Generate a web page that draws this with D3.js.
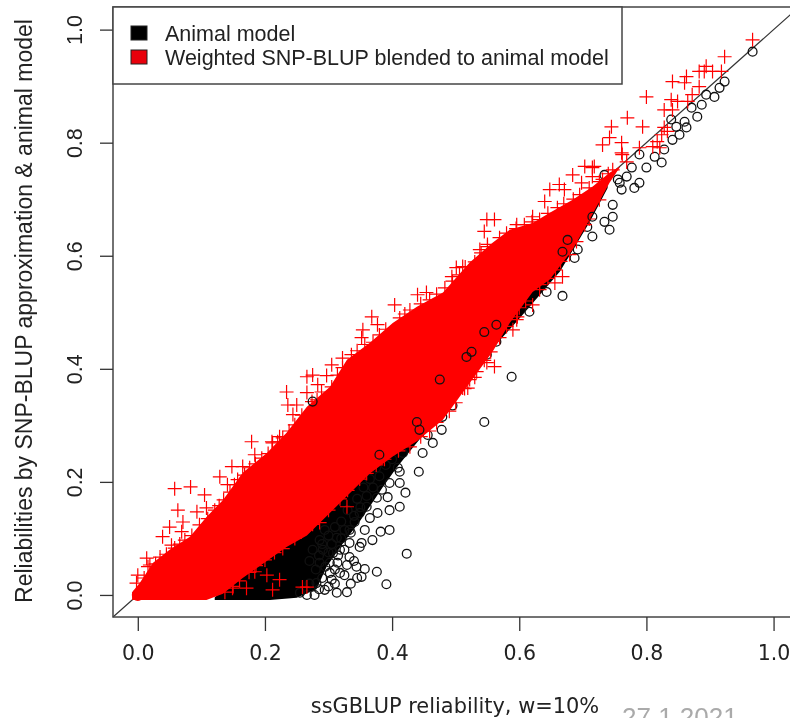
<!DOCTYPE html>
<html lang="en">
<head>
  <meta charset="UTF-8">
  <script src="https://d3js.org/d3.v7.min.js"></script>
  <title>SNP-BLUP reliabilities</title>
  <style>
    body { margin: 0; background: white; overflow: hidden; }
    svg { display: block; filter: blur(0.55px); }
    .x-text { font-family: "DejaVu Sans", sans-serif; fill: #222; }
    .y-text { font-family: "Liberation Sans", sans-serif; fill: #222; }
  </style>
</head>
<body>
<script>
  // Tick labels and text
  const xTicks = [0, 0.2, 0.4, 0.6, 0.8, 1.0];
  const yTicks = [0, 0.2, 0.4, 0.6, 0.8, 1.0];
  const legendLabels = ["Animal model", "Weighted SNP-BLUP blended to animal model"];

  const redBandX = [-0.009, 0.003, 0.024, 0.050, 0.082, 0.108, 0.134, 0.165, 0.203, 0.234, 0.266, 0.302, 0.329, 0.365, 0.401, 0.439, 0.480, 0.522, 0.558, 0.585, 0.621, 0.648, 0.684, 0.715, 0.742, 0.758];
  const redBandHigh = [0.005, 0.021, 0.057, 0.080, 0.103, 0.138, 0.168, 0.216, 0.251, 0.287, 0.333, 0.368, 0.416, 0.446, 0.481, 0.510, 0.535, 0.588, 0.623, 0.646, 0.658, 0.676, 0.699, 0.722, 0.747, 0.758];
  const redBandLow = [-0.009, -0.009, -0.009, -0.009, -0.009, -0.009, 0.002, 0.030, 0.060, 0.085, 0.105, 0.145, 0.175, 0.215, 0.245, 0.272, 0.310, 0.375, 0.430, 0.481, 0.536, 0.558, 0.611, 0.673, 0.729, 0.756];

  // Solid black mass showing below the red one
  const blackBandX = [0.121, 0.176, 0.208, 0.250, 0.281, 0.297, 0.322, 0.349, 0.385, 0.407, 0.443, 0.483, 0.522, 0.553, 0.601, 0.664, 0.711, 0.739];
  const blackBandHigh = [-0.004, 0.044, 0.080, 0.115, 0.147, 0.168, 0.195, 0.230, 0.274, 0.292, 0.319, 0.354, 0.407, 0.451, 0.522, 0.593, 0.673, 0.729];
  const blackBandLow = [-0.009, -0.009, -0.009, -0.005, 0.010, 0.050, 0.090, 0.130, 0.190, 0.225, 0.275, 0.327, 0.384, 0.430, 0.490, 0.572, 0.660, 0.720];

  // Animal model points that can be told apart
  const animalPoints = [
    [.967,.961],[.923,.908],[.915,.897],[.907,.881],[.894,.885],[.887,.867],[.880,.846],[.871,.862],[.863,.827],[.860,.837],
    [.847,.828],[.852,.814],[.839,.841],[.841,.805],[.828,.788],[.824,.765],[.813,.775],[.789,.779],[.800,.756],[.777,.756],
    [.789,.729],[.769,.740],[.755,.735],[.734,.743],[.761,.717],[.781,.720],[.747,.690],[.747,.669],[.742,.646],[.734,.660],
    [.715,.634],[.707,.651],[.692,.611],[.687,.596],[.668,.529],[.643,.536],[.616,.501],[.590,.504],[.588,.386],[.545,.306],
    [.549,.425],[.564,.448],[.495,.335],[.479,.315],[.478,.292],[.464,.269],[.448,.251],[.456,.283],[.442,.218],[.417,.251],
    [.409,.225],[.572,.474],[.412,.218],[.412,.198],[.421,.181],[.412,.156],[.393,.173],[.376,.172],[.396,.115],[.382,.112],
    [.357,.115],[.369,.097],[.352,.092],[.349,.085],[.423,.073],[.376,.041],[.357,.046],[.352,.032],[.391,.019],[.329,.005],
    [.333,.067],[.325,.035],[.313,.004],[.278,.000],[.266,.000],[.377,.145],[.365,.136],[.341,.129],[.333,.115],[.302,.057],
    [.314,.057],[.318,.039],[.305,.027],[.294,.009],[.344,.050],[.329,.053],[.307,.074],[.294,.115],[.313,.101],[.286,.097],
    [.333,.092],[.349,.145],[.360,.156],[.396,.150],[.384,.186],[.396,.198],[.275,.080],[.291,.080],[.286,.057],[.302,.039],
    [.281,.021],[.318,.080],[.255,.004],
    // thick part of the black cloud
    [.27,.02],[.285,.01],[.30,.015],[.29,.03],[.31,.02],[.28,.045],[.295,.05],[.31,.045],[.27,.06],[.285,.07],
    [.30,.075],[.315,.07],[.29,.09],[.305,.09],[.32,.1],[.30,.105],[.325,.115],[.31,.12],[.335,.11],[.32,.13],
    [.34,.14],[.33,.15],[.35,.155],[.345,.17],[.36,.175],[.355,.19],[.37,.19],[.365,.205],[.38,.21],[.375,.225],
    [.39,.23],[.385,.245],[.40,.24],[.335,.02],[.345,.03],[.34,.06],[.325,.08]
  ];

  // Animal model points that show through the red cloud
  const animalShowing = [
    [.517,.421],[.525,.430],[.475,.381],[.439,.306],[.443,.292],[.380,.248],[.564,.478],[.545,.465],[.758,.729],[.715,.669],
    [.676,.628],[.668,.607],[.275,.342]
  ];

  // Blended model points that can be told apart
  const blendedPoints = [
    [.967,.982],[.923,.952],[.894,.935],[.891,.926],[.904,.926],[.918,.926],[.883,.926],[.863,.917],[.860,.906],[.841,.908],
    [.800,.881],[.883,.899],[.872,.885],[.839,.876],[.849,.873],[.865,.873],[.828,.858],[.841,.858],[.770,.844],[.794,.828],
    [.745,.828],[.742,.809],[.731,.796],[.761,.800],[.761,.782],[.789,.791],[.769,.766],[.828,.827],[.824,.814],[.817,.802],
    [.810,.793],[.833,.820],[.821,.791],[.718,.758],[.715,.740],[.731,.735],[.747,.752],[.549,.664],[.561,.664],[.545,.643],
    [.715,.756],[.703,.758],[.684,.743],[.663,.726],[.648,.717],[.640,.696],[.698,.729],[.671,.717],[.621,.669],[.762,.779],
    [.596,.655],[.550,.616],[.538,.611],[.511,.581],[.501,.579],[.494,.563],[.668,.563],[.656,.552],[.632,.540],[.621,.513],
    [.597,.492],[.561,.404],[.590,.469],[.596,.487],[.549,.411],[.511,.366],[.522,.381],[.533,.395],[.519,.366],[.404,.513],
    [.440,.531],[.454,.535],[.368,.492],[.354,.469],[.352,.455],[.377,.478],[.305,.407],[.322,.419],[.275,.389],[.266,.386],
    [.297,.388],[.283,.372],[.234,.359],[.236,.336],[.250,.336],[.266,.358],[.244,.319],[.179,.271],[.211,.271],[.184,.248],
    [.223,.280],[.212,.269],[.148,.227],[.165,.227],[.129,.209],[.141,.195],[.083,.191],[.058,.188],[.105,.177],[.108,.154],
    [.063,.150],[.093,.147],[.071,.129],[.050,.120],[.039,.103],[.069,.112],[.053,.088],[.014,.065],[.016,.050],[.000,.035],
    [-.002,.021],
    // over the black part
    [.223,.027],[.212,.009],[.266,.014],[.329,.156],[.203,.035],[.184,.041],[.171,.012],[.149,.012],[.259,.014],
    // along the upper edge
    [.019,.053],[.035,.067],[.058,.083],[.074,.097],[.097,.124],[.121,.150],[.145,.182],[.157,.204],[.176,.225],[.195,.242],
    [.220,.271],[.247,.301],[.274,.342],[.289,.359],[.314,.389],[.336,.425],[.357,.443],[.380,.460],[.412,.490],[.428,.504],
    [.459,.522],[.483,.543],[.506,.566],[.530,.589],[.569,.632],[.608,.655],[.632,.664],[.660,.685],[.695,.708],[.726,.731],
    [.01,.03],[.028,.055],[.045,.072],[.066,.09],[.085,.105],[.11,.135],[.128,.158],[.135,.168],[.152,.195],[.168,.212],
    [.185,.232],[.205,.25],[.228,.278],[.238,.29],[.258,.318],[.282,.345],[.305,.368],[.322,.402],[.345,.432],[.37,.447],
    [.39,.47],[.42,.497],[.445,.515],[.47,.532],[.495,.555],[.515,.58],[.54,.605],[.55,.62],[.58,.64],[.595,.648],
    [.62,.66],[.645,.675],[.67,.692],[.685,.7],[.71,.72],[.74,.745],
    // along the lower edge
    [.137,.005],[.160,.025],[.186,.052],[.215,.075],[.247,.100],[.286,.128],[.318,.170],[.349,.205],[.388,.240],[.428,.262],
    [.459,.290],[.490,.325],[.514,.365],[.545,.415],[.569,.455],[.600,.508],[.632,.549],[.657,.575],[.679,.602],[.703,.655],
    [.726,.699],
    [.15,.015],[.175,.04],[.2,.062],[.228,.082],[.26,.115],[.275,.125],[.3,.15],[.33,.185],[.36,.215],[.375,.23],
    [.41,.255],[.445,.28],[.47,.305],[.5,.34],[.53,.385],[.555,.43],[.58,.475],[.61,.52],[.645,.56],[.665,.59],
    [.69,.625],[.71,.665]
  ];

  const width = 790;
  const height = 718;

  const x = d3.scaleLinear().domain([-0.039, 1.04]).range([113, 799]);
  const y = d3.scaleLinear().domain([-0.039, 1.04]).range([617, 7]);

  const svg = d3.select("body").append("svg")
    .attr("width", width)
    .attr("height", height);

  // Diagonal reference line
  svg.append("line")
    .attr("x1", x(-0.039)).attr("y1", y(-0.039))
    .attr("x2", x(1.04)).attr("y2", y(1.04))
    .attr("stroke", "#333")
    .attr("stroke-width", 1.2);

  // Band shape shared by both solid masses
  const band = d3.area()
    .x(d => x(d[0]))
    .y0(d => y(d[1]))
    .y1(d => y(d[2]));

  svg.append("path")
    .attr("d", band(blackBandX.map((v, i) => [v, blackBandLow[i], blackBandHigh[i]])))
    .attr("fill", "black");

  function drawRings(points) {
    svg.append("g").selectAll("circle")
      .data(points)
      .enter().append("circle")
      .attr("cx", d => x(d[0]))
      .attr("cy", d => y(d[1]))
      .attr("r", 4.4)
      .attr("fill", "none")
      .attr("stroke", "#111")
      .attr("stroke-width", 1.3);
  }

  drawRings(animalPoints);

  svg.append("path")
    .attr("d", band(redBandX.map((v, i) => [v, redBandLow[i], redBandHigh[i]])))
    .attr("fill", "#f00");

  // Corner of the cloud at the origin
  svg.append("circle")
    .attr("cx", x(0))
    .attr("cy", y(0))
    .attr("r", 6)
    .attr("fill", "#f00");

  svg.append("g").selectAll("path")
    .data(blendedPoints)
    .enter().append("path")
    .attr("transform", d => `translate(${x(d[0])},${y(d[1])})`)
    .attr("d", "M-7,0H7M0,-7V7")
    .attr("fill", "none")
    .attr("stroke", "#f00")
    .attr("stroke-width", 1.2);

  drawRings(animalShowing);

  // Frame, runs past the right edge of the page
  svg.append("rect")
    .attr("x", 113).attr("y", 7)
    .attr("width", 686).attr("height", 610)
    .attr("fill", "none")
    .attr("stroke", "#444")
    .attr("stroke-width", 1.5);

  // Axes
  const xAxis = svg.append("g")
    .attr("transform", "translate(0,617)")
    .call(d3.axisBottom(x).tickValues(xTicks).tickFormat(d3.format(".1f")).tickSize(14).tickPadding(14));
  xAxis.select(".domain").remove();
  xAxis.selectAll("line").attr("stroke", "#333").attr("stroke-width", 1.3);
  xAxis.selectAll("text").attr("class", "x-text").style("font-size", "20.5px");

  const yAxis = svg.append("g")
    .attr("transform", "translate(113,0)")
    .call(d3.axisLeft(y).tickValues(yTicks).tickFormat(d3.format(".1f")).tickSize(13));
  yAxis.select(".domain").remove();
  yAxis.selectAll("line").attr("stroke", "#333").attr("stroke-width", 1.3);
  yAxis.selectAll("text")
    .attr("class", "y-text")
    .style("font-size", "21.5px")
    .attr("text-anchor", "middle")
    .attr("dy", null)
    .attr("x", null)
    .attr("transform", "translate(-31,0) rotate(-90)");

  // Axis titles
  svg.append("text")
    .attr("class", "x-text")
    .attr("x", 455)
    .attr("y", 713)
    .attr("text-anchor", "middle")
    .style("font-size", "20.9px")
    .text("ssGBLUP reliability, w=10%");

  svg.append("text")
    .attr("class", "y-text")
    .attr("transform", "translate(32,311) rotate(-90)")
    .attr("text-anchor", "middle")
    .style("font-size", "23px")
    .text("Reliabilities by SNP-BLUP approximation & animal model");

  // Date stamp cut off by the bottom of the page
  svg.append("text")
    .attr("x", 622)
    .attr("y", 726)
    .style("font-family", "'Liberation Sans', sans-serif")
    .style("font-size", "26px")
    .attr("fill", "#aaa")
    .text("27.1.2021");

  // Legend
  const legend = svg.append("g");
  legend.append("rect")
    .attr("x", 113).attr("y", 7)
    .attr("width", 509).attr("height", 77)
    .attr("fill", "white")
    .attr("stroke", "#444")
    .attr("stroke-width", 1.5);

  const legendItem = legend.selectAll(".item")
    .data(legendLabels)
    .enter().append("g")
    .attr("class", "item")
    .attr("transform", (d, i) => `translate(0,${i * 24})`);

  legendItem.append("rect")
    .attr("x", 131).attr("y", 26)
    .attr("width", 16).attr("height", 14)
    .attr("fill", (d, i) => i === 0 ? "black" : "#e8000b")
    .attr("stroke", "#222");

  legendItem.append("text")
    .attr("class", "y-text")
    .attr("x", 165)
    .attr("y", 41)
    .style("font-size", "21.5px")
    .text(d => d);
</script>
</body>
</html>
